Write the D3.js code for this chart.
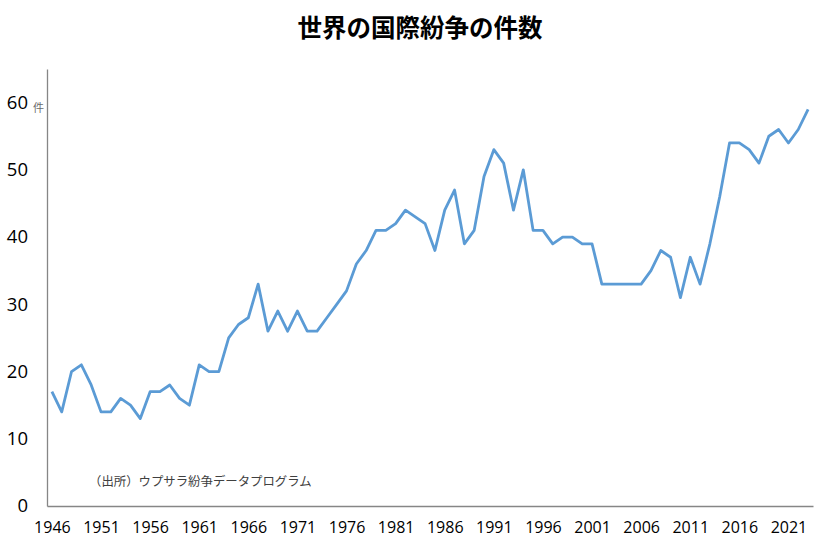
<!DOCTYPE html>
<html>
<head>
<meta charset="utf-8">
<script src="https://cdn.jsdelivr.net/npm/d3@7/dist/d3.min.js"></script>
<style>
  html, body { margin: 0; padding: 0; background: #fff; }
  svg { display: block; }
</style>
</head>
<body>
<svg id="chart" width="840" height="548"></svg>
<script>
const titleText = "世界の国際紛争の件数";
const sourceText = "（出所）ウプサラ紛争データプログラム";
const unitText = "件";
const years = d3.range(1946, 2024);
const conflicts = [
  17, 14, 20, 21, 18, 14, 14, 16, 15, 13,
  17, 17, 18, 16, 15, 21, 20, 20, 25, 27,
  28, 33, 26, 29, 26, 29, 26, 26, 28, 30,
  32, 36, 38, 41, 41, 42, 44, 43, 42, 38,
  44, 47, 39, 41, 49, 53, 51, 44, 50, 41,
  41, 39, 40, 40, 39, 39, 33, 33, 33, 33,
  33, 35, 38, 37, 31, 37, 33, 39, 46, 54,
  54, 53, 51, 55, 56, 54, 56, 59
];
const yTicks = [0, 10, 20, 30, 40, 50, 60];
const xTickYears = d3.range(1946, 2024, 5);

const svg = d3.select("#chart");
const font = "'Noto Sans CJK JP', 'Noto Sans', sans-serif";
const numFont = "'Open Sans', 'Liberation Sans', Arial, sans-serif";

const x = d3.scalePoint().domain(years).range([47, 813]).padding(0.5);
const y = d3.scaleLinear().domain([0, 65]).range([506, 69]);

// title
svg.append("text")
  .attr("x", 420).attr("y", 37)
  .attr("text-anchor", "middle")
  .attr("font-family", font)
  .attr("font-weight", "bold")
  .attr("font-size", 24.5)
  .attr("fill", "#000")
  .text(titleText);

// y axis
const yAxis = d3.axisLeft(y).tickValues(yTicks).tickSize(0).tickPadding(19);
const gy = svg.append("g").attr("transform", "translate(47,0)").call(yAxis);
gy.select(".domain").attr("stroke", "#868686").attr("stroke-width", 1.3);
gy.selectAll("text")
  .attr("font-family", numFont)
  .attr("font-size", 18.5)
  .attr("fill", "#000");

// x axis
const xAxis = d3.axisBottom(x).tickValues(xTickYears).tickSize(0).tickPadding(16);
const gx = svg.append("g").attr("transform", "translate(0,506)").call(xAxis);
gx.select(".domain").attr("stroke", "#868686").attr("stroke-width", 1.3);
gx.selectAll("text")
  .attr("font-family", numFont)
  .attr("font-size", 16)
  .attr("fill", "#000");

// unit label
svg.append("text")
  .attr("x", 33).attr("y", y(60) + 9)
  .attr("font-family", font)
  .attr("font-size", 11)
  .attr("fill", "#6b6b6b")
  .text(unitText);

// line
const line = d3.line()
  .x((d, i) => x(years[i]))
  .y(d => y(d));
svg.append("path")
  .datum(conflicts)
  .attr("d", line)
  .attr("fill", "none")
  .attr("stroke", "#5B9BD5")
  .attr("stroke-width", 2.8)
  .attr("stroke-linejoin", "round");

// source note
svg.append("text")
  .attr("x", 89).attr("y", 486)
  .attr("font-family", font)
  .attr("font-size", 12.4)
  .attr("fill", "#404040")
  .text(sourceText);
</script>
</body>
</html>
